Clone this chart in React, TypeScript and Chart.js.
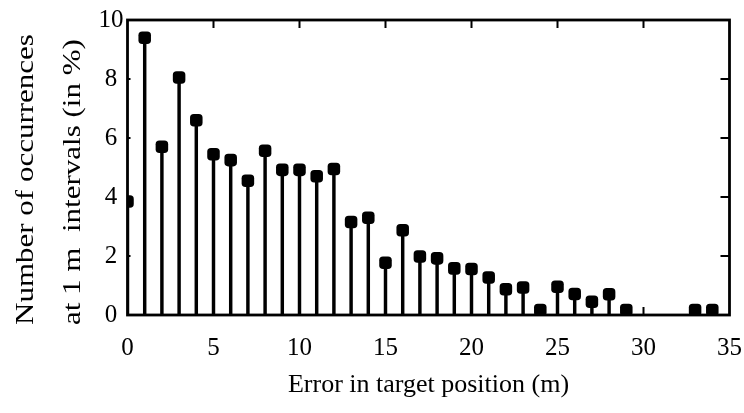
import React, { useEffect, useRef } from "react";
import { Chart, registerables } from "chart.js";

Chart.register(...registerables);

// Error in target position (m)
const errorMeters = [
  0, 1, 2, 3, 4, 5, 6, 7, 8, 9, 10, 11, 12, 13, 14, 15, 16, 17, 18, 19, 20,
  21, 22, 23, 24, 25, 26, 27, 28, 29, 33, 34,
];
// Number of occurrences at 1 m intervals (in %)
const occurrencePct = [
  3.85, 9.4, 5.7, 8.05, 6.6, 5.45, 5.25, 4.55, 5.57, 4.92, 4.92, 4.7, 4.95,
  3.15, 3.3, 1.77, 2.87, 1.98, 1.92, 1.58, 1.56, 1.27, 0.87, 0.93, 0.17, 0.96,
  0.71, 0.45, 0.7, 0.17, 0.17, 0.17,
];
const xTickValues = [5, 10, 15, 20, 25, 30];
const yTickValues = [2, 4, 6, 8];
const yTitleLines = ["Number of occurrences", "at 1 m  intervals (in %)"];
const xTitle = "Error in target position (m)";

const FONT = "'Liberation Serif', 'Times New Roman', Times, serif";

export default function App() {
  const ref = useRef<HTMLCanvasElement>(null);

  useEffect(() => {
    if (!ref.current) return;
    const points = errorMeters.map((x, i) => ({ x, y: occurrencePct[i] }));

    const framePlugin = {
      id: "frame",
      afterDatasetsDraw(chart: any) {
        const { ctx, chartArea: a, scales } = chart;
        const xs = scales.x;
        const ys = scales.y;
        ctx.save();
        ctx.strokeStyle = "#000";
        ctx.lineWidth = 2.8;
        ctx.strokeRect(a.left, a.top, a.right - a.left, a.bottom - a.top);
        ctx.lineWidth = 2;
        ctx.beginPath();
        xTickValues.forEach((v) => {
          const px = xs.getPixelForValue(v);
          ctx.moveTo(px, a.top);
          ctx.lineTo(px, a.top + 8);
          ctx.moveTo(px, a.bottom);
          ctx.lineTo(px, a.bottom - 8);
        });
        yTickValues.forEach((v) => {
          const py = ys.getPixelForValue(v);
          ctx.moveTo(a.right, py);
          ctx.lineTo(a.right - 9, py);
          ctx.moveTo(a.left, py);
          ctx.lineTo(a.left + 3, py);
        });
        ctx.stroke();
        ctx.restore();
      },
      afterDraw(chart: any) {
        const { ctx, chartArea: a } = chart;
        ctx.save();
        ctx.fillStyle = "#000";
        ctx.font = `25px ${FONT}`;
        ctx.textBaseline = "alphabetic";
        ctx.textAlign = "left";
        const baselines = [33, 80];
        yTitleLines.forEach((t, i) => {
          ctx.save();
          ctx.translate(baselines[i], a.bottom + 10);
          ctx.rotate(-Math.PI / 2);
          ctx.scale(1.24, 1);
          ctx.fillText(t, 0, 0);
          ctx.restore();
        });
        ctx.restore();
      },
    };

    const chart = new Chart(ref.current, {
      type: "bar",
      data: {
        datasets: [
          {
            type: "scatter",
            data: points,
            pointStyle: "rectRounded",
            pointRadius: 7.3,
            pointHoverRadius: 7.3,
            backgroundColor: "#000",
            borderWidth: 0,
            clip: 0,
            order: 1,
          } as any,
          {
            type: "bar",
            data: points,
            backgroundColor: "#000",
            barThickness: 2.8,
            borderWidth: 0,
            order: 2,
          } as any,
        ],
      },
      options: {
        animation: false,
        responsive: false,
        devicePixelRatio: 1,
        layout: { padding: { left: 0, right: 14.5, top: 20, bottom: 0 } },
        plugins: {
          legend: { display: false },
          tooltip: { enabled: false },
        },
        scales: {
          x: {
            type: "linear",
            min: 0,
            max: 35,
            offset: false,
            grid: { display: false, drawTicks: false, offset: false },
            border: { display: false },
            ticks: {
              stepSize: 5,
              padding: 18,
              color: "#000",
              maxRotation: 0,
              autoSkip: false,
              font: { family: FONT, size: 25 },
            },
            title: {
              display: true,
              text: xTitle,
              color: "#000",
              font: { family: FONT, size: 26 },
              padding: { top: 0, bottom: 12 },
            },
            afterFit(s: any) {
              s.height = 98;
              s.paddingLeft = 0;
              s.paddingRight = 0;
            },
          },
          y: {
            type: "linear",
            min: 0,
            max: 10,
            grid: { display: false, drawTicks: false },
            border: { display: false },
            ticks: {
              stepSize: 2,
              padding: 4,
              crossAlign: "center",
              color: "#000",
              font: { family: FONT, size: 25 },
            },
            afterFit(s: any) {
              s.width = 127.5;
              s.paddingTop = 0;
              s.paddingBottom = 0;
            },
          },
        },
      } as any,
      plugins: [framePlugin],
    });

    return () => chart.destroy();
  }, []);

  return (
    <div
      style={{
        position: "fixed",
        left: 0,
        top: 0,
        width: 744,
        height: 413,
        background: "#fff",
      }}
    >
      <canvas ref={ref} width={744} height={413} style={{ display: "block" }} />
    </div>
  );
}
